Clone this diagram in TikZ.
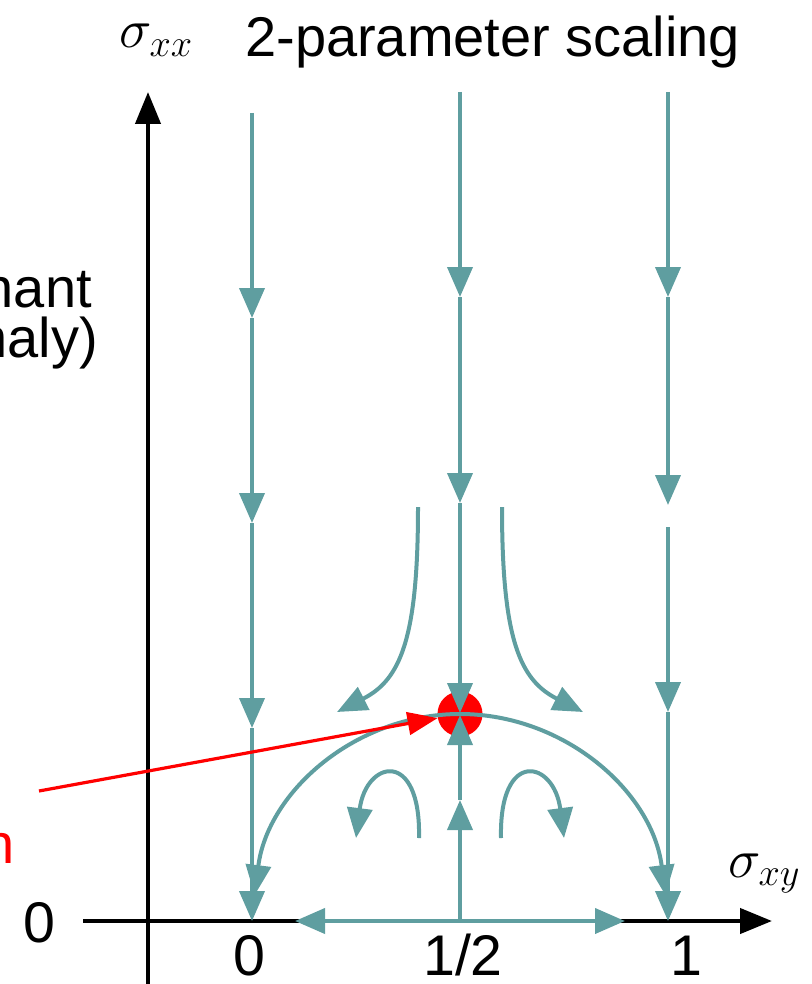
\RequirePackage{fix-cm}
\documentclass[tikz,border=0pt]{standalone}
\usepackage{fontspec}
\setmainfont{Liberation Sans}
\usetikzlibrary{arrows.meta}
\definecolor{flow}{RGB}{95,158,160}
\begin{document}
\begin{tikzpicture}[x=0.75pt,y=-0.75pt,
  flowline/.style={draw=flow,line width=3pt},
  fa/.style={-{Triangle[width=18.75pt,length=22.5pt]}},
  axisline/.style={draw=black,line width=3.2pt,-{Triangle[width=18.75pt,length=24pt]}},
  redarrow/.style={draw=red,line width=2.4pt,-{Triangle[width=17pt,length=22.5pt]}},
  lab/.style={font=\fontsize{43}{50}\selectfont, inner sep=0pt},
  comic/.style={font=\fontsize{42}{48}\selectfont, inner sep=0pt},
  mathlab/.style={font=\fontsize{41}{46}\selectfont, inner sep=0pt}]
\useasboundingbox (0,0) rectangle (812,984);

% axes
\coordinate (ybot) at (148,984);
\coordinate (ytop) at (148,92);
\coordinate (xl) at (83,921);
\coordinate (xr) at (772,921);
\draw[axisline] (ybot) -- (ytop);
\draw[axisline] (xl) -- (xr);

% fixed point
\node[circle, fill=red, minimum size=33.75pt, inner sep=0pt] (fp) at (460,714) {};

% left column
\coordinate (L0) at (252,113);
\coordinate (L1) at (252,318);
\coordinate (L2) at (252,523);
\coordinate (L3) at (252,728);
\coordinate (L4) at (252,921);
\draw[flowline,fa] (L0) -- (L1);
\draw[flowline,fa] (L1) -- (L2);
\draw[flowline,fa] (L2) -- (L3);
\draw[flowline,fa] (L3) -- (L4);

% middle column
\coordinate (M0) at (460,92);
\coordinate (M1) at (460,297);
\coordinate (M2) at (460,503);
\coordinate (M3) at (460,713);
\coordinate (Mb) at (460,921);
\coordinate (M5) at (460,800);
\coordinate (M6) at (460,715);
\draw[flowline,fa] (M0) -- (M1);
\draw[flowline,fa] (M1) -- (M2);
\draw[flowline,fa] (M2) -- (M3);
\draw[flowline,fa] (Mb) -- (M5);
\draw[flowline,fa] (M5) -- (M6);

% right column
\coordinate (R0) at (668,92);
\coordinate (R1) at (668,297);
\coordinate (R2) at (668,505);
\coordinate (R3) at (668,527);
\coordinate (R4) at (668,712);
\coordinate (R5) at (668,921);
\draw[flowline,fa] (R0) -- (R1);
\draw[flowline,fa] (R1) -- (R2);
\draw[flowline,fa] (R3) -- (R4);
\draw[flowline,fa] (R4) -- (R5);

% horizontal flow on the axis
\coordinate (HL) at (295,921);
\coordinate (HR) at (625,921);
\draw[flowline,fa] (Mb) -- (HL);
\draw[flowline,fa] (Mb) -- (HR);

% separatrix arcs from the fixed point
\draw[flowline,fa] (fp.center) arc[start angle=-90, end angle=-172.8, radius=207];
\draw[flowline,fa] (fp.center) arc[start angle=-90, end angle=-7.2, radius=207];

% hyperbolic flows above
\coordinate (TLs) at (418,507);
\coordinate (TLe) at (337,712);
\coordinate (TRs) at (502,507);
\coordinate (TRe) at (583,712);
\draw[flowline,fa] (TLs) .. controls (418,640) and (400,680) .. (TLe);
\draw[flowline,fa] (TRs) .. controls (502,640) and (520,680) .. (TRe);

% hooks below
\coordinate (BLs) at (419,838);
\coordinate (BLe) at (356,838);
\coordinate (BRs) at (501,838);
\coordinate (BRe) at (564,838);
\draw[flowline,fa] (BLs) .. controls (421,748) and (366,760) .. (BLe);
\draw[flowline,fa] (BRs) .. controls (499,748) and (554,760) .. (BRe);

% labels
\node[lab, anchor=base] (l0) at (39,942) {0};
\node[lab, anchor=base] (b0) at (249,975) {0};
\node[lab, anchor=base] (bh) at (463,975) {1/2};
\node[lab, anchor=base] (b1) at (686,975) {1};
\node[comic, anchor=base west] (title) at (245,57) {2-parameter scaling};
\node[mathlab, anchor=base west] (sxx) at (119,48) {$\sigma_{xx}$};
\node[mathlab, anchor=base west] (sxy) at (728,877) {$\sigma_{xy}$};
\node[comic, anchor=base east] (t1) at (92,307) {nant};
\node[comic, anchor=base east] (t2) at (98,357) {naly)};
\node[comic, anchor=base east, text=red] (t3) at (15,863) {n};

% red pointer
\coordinate (rp) at (39,791);
\draw[redarrow] (rp) -- (fp);
\end{tikzpicture}
\end{document}
